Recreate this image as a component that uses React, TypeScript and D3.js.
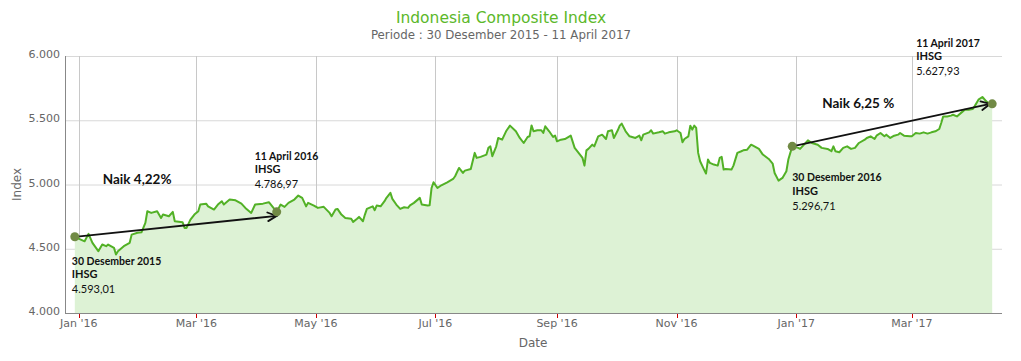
import React from "react";
import * as d3 from "d3";

const dates: string[] = [
  "2015-12-30","2016-01-04","2016-01-06","2016-01-08","2016-01-11","2016-01-13","2016-01-15","2016-01-16","2016-01-19","2016-01-20",
  "2016-01-21","2016-01-24","2016-01-27","2016-01-28","2016-01-31","2016-02-02","2016-02-04","2016-02-05","2016-02-07","2016-02-10",
  "2016-02-12","2016-02-13","2016-02-16","2016-02-18","2016-02-19","2016-02-23","2016-02-24","2016-02-25","2016-02-27","2016-02-29",
  "2016-03-02","2016-03-03","2016-03-06","2016-03-07","2016-03-10","2016-03-12","2016-03-14","2016-03-15","2016-03-18","2016-03-21",
  "2016-03-24","2016-03-26","2016-03-29","2016-03-31","2016-04-04","2016-04-07","2016-04-11","2016-04-13","2016-04-15","2016-04-17",
  "2016-04-20","2016-04-22","2016-04-24","2016-04-26","2016-04-27","2016-04-30","2016-05-02","2016-05-05","2016-05-08","2016-05-09",
  "2016-05-11","2016-05-12","2016-05-14","2016-05-16","2016-05-19","2016-05-20","2016-05-22","2016-05-23","2016-05-25","2016-05-26",
  "2016-05-27","2016-05-30","2016-05-31","2016-06-01","2016-06-03","2016-06-05","2016-06-06","2016-06-08","2016-06-09","2016-06-11",
  "2016-06-13","2016-06-15","2016-06-17","2016-06-18","2016-06-20","2016-06-23","2016-06-24","2016-06-27","2016-06-28","2016-06-29",
  "2016-06-30","2016-07-02","2016-07-04","2016-07-07","2016-07-10","2016-07-11","2016-07-13","2016-07-15","2016-07-16","2016-07-19",
  "2016-07-21","2016-07-22","2016-07-24","2016-07-27","2016-07-28","2016-07-29","2016-07-30","2016-08-01","2016-08-02","2016-08-04",
  "2016-08-06","2016-08-08","2016-08-11","2016-08-13","2016-08-15","2016-08-17","2016-08-18","2016-08-19","2016-08-20","2016-08-22",
  "2016-08-24","2016-08-25","2016-08-26","2016-08-28","2016-08-30","2016-08-31","2016-09-01","2016-09-03","2016-09-05","2016-09-08",
  "2016-09-10","2016-09-12","2016-09-14","2016-09-15","2016-09-16","2016-09-17","2016-09-19","2016-09-20","2016-09-22","2016-09-24",
  "2016-09-26","2016-09-27","2016-09-29","2016-09-30","2016-10-02","2016-10-03","2016-10-04","2016-10-06","2016-10-08","2016-10-11",
  "2016-10-13","2016-10-14","2016-10-15","2016-10-18","2016-10-19","2016-10-20","2016-10-23","2016-10-25","2016-10-26","2016-10-28",
  "2016-10-31","2016-11-01","2016-11-03","2016-11-04","2016-11-05","2016-11-07","2016-11-08","2016-11-09","2016-11-10","2016-11-11",
  "2016-11-12","2016-11-13","2016-11-15","2016-11-16","2016-11-17","2016-11-18","2016-11-20","2016-11-22","2016-11-23","2016-11-24",
  "2016-11-25","2016-11-26","2016-11-29","2016-11-30","2016-12-02","2016-12-04","2016-12-05","2016-12-07","2016-12-09","2016-12-10",
  "2016-12-13","2016-12-15","2016-12-18","2016-12-20","2016-12-21","2016-12-23","2016-12-25","2016-12-27","2016-12-28","2016-12-30",
  "2017-01-02","2017-01-03","2017-01-05","2017-01-07","2017-01-09","2017-01-12","2017-01-14","2017-01-17","2017-01-19","2017-01-20",
  "2017-01-21","2017-01-23","2017-01-25","2017-01-27","2017-01-29","2017-01-31","2017-02-02","2017-02-05","2017-02-06","2017-02-08",
  "2017-02-10","2017-02-11","2017-02-13","2017-02-15","2017-02-16","2017-02-18","2017-02-20","2017-02-22","2017-02-23","2017-02-25",
  "2017-02-28","2017-03-01","2017-03-03","2017-03-05","2017-03-07","2017-03-09","2017-03-11","2017-03-13","2017-03-15","2017-03-16",
  "2017-03-17","2017-03-19","2017-03-21","2017-03-22","2017-03-24","2017-03-27","2017-03-28","2017-03-30","2017-04-01","2017-04-02",
  "2017-04-04","2017-04-06","2017-04-08","2017-04-09","2017-04-11"
];

const values: number[] = [
  4593.01,4558,4616,4546,4481,4533,4520,4533,4507,4455,
  4481,4520,4546,4610,4624,4628,4701,4792,4779,4792,
  4740,4766,4753,4787,4714,4706,4662,4662,4727,4766,
  4792,4844,4851,4830,4805,4844,4870,4844,4883,4877,
  4851,4818,4779,4844,4851,4862,4786.97,4844,4826,4857,
  4883,4914,4896,4830,4857,4836,4818,4826,4779,4753,
  4805,4810,4766,4740,4733,4709,4733,4748,4714,4766,
  4810,4830,4800,4836,4830,4870,4896,4935,4888,4844,
  4810,4823,4818,4838,4857,4896,4844,4836,4838,4973,
  5017,4973,4994,5017,5043,5064,5129,5090,5108,5121,
  5246,5207,5215,5233,5285,5297,5220,5297,5362,5349,
  5414,5458,5414,5362,5323,5370,5375,5460,5414,5422,
  5422,5401,5453,5414,5370,5380,5336,5349,5354,5380,
  5285,5246,5207,5147,5266,5277,5310,5297,5375,5388,
  5354,5414,5422,5362,5422,5458,5474,5414,5375,5362,
  5380,5344,5388,5406,5422,5396,5406,5414,5396,5406,
  5414,5422,5401,5328,5354,5375,5458,5427,5458,5440,
  5246,5181,5116,5085,5194,5168,5155,5147,5207,5215,
  5116,5121,5116,5147,5246,5259,5266,5271,5310,5302,
  5277,5233,5199,5163,5090,5030,5051,5103,5194,5296.71,
  5285,5277,5310,5344,5323,5310,5285,5277,5259,5297,
  5259,5251,5285,5297,5277,5285,5323,5349,5362,5375,
  5354,5380,5401,5375,5388,5362,5380,5388,5401,5380,
  5375,5375,5401,5396,5406,5396,5406,5414,5432,5479,
  5530,5530,5536,5543,5530,5569,5582,5582,5587,5608,
  5660,5681,5647,5634,5627.93
];

const yTicks: number[] = [4000, 4500, 5000, 5500, 6000];
const xDomain: string[] = ["2015-12-25", "2017-04-16"];

// annotation points: date, value, label lines
const markerDates: string[] = ["2015-12-30", "2016-04-11", "2016-12-30", "2017-04-11"];
const markerValues: number[] = [4593.01, 4786.97, 5296.71, 5627.93];
const markerTitles: string[] = ["30 Desember 2015", "11 April 2016", "30 Desember 2016", "11 April 2017"];
const markerLabels: string[] = ["4.593,01", "4.786,97", "5.296,71", "5.627,93"];
const gainLabels: string[] = ["Naik 4,22%", "Naik 6,25 %"];

const title = "Indonesia Composite Index";
const subtitle = "Periode : 30 Desember 2015 - 11 April 2017";

const W = 1021;
const H = 361;
const left = 65;
const right = 1002;
const top = 56;
const bottom = 313;

const parse = d3.utcParse("%Y-%m-%d");
const locale = d3.formatLocale({ decimal: ",", thousands: ".", grouping: [3], currency: ["", ""] });
const fmtY = locale.format(",");
const fmtX = d3.utcFormat("%b '%y");

export default function App() {
  const x = d3.scaleUtc().domain(xDomain.map((s) => parse(s)!)).range([left, right]);
  const y = d3.scaleLinear().domain([4000, 6000]).range([bottom, top]);
  const data = dates.map((d, i) => ({ d: parse(d)!, v: values[i] }));
  const line = d3.line<{ d: Date; v: number }>().x((p) => x(p.d)).y((p) => y(p.v));
  const area = d3
    .area<{ d: Date; v: number }>()
    .x((p) => x(p.d))
    .y0(y(4000))
    .y1((p) => y(p.v));
  const xTicks = x.ticks(d3.utcMonth.every(2)!);
  const mk = markerDates.map((d, i) => ({ x: x(parse(d)!), y: y(markerValues[i]) }));

  const font = "'DejaVu Sans', Verdana, sans-serif";
  const afont = "Lato, 'Open Sans', sans-serif";

  const arrow = (x1: number, y1: number, x2: number, y2: number, key: string) => {
    const ang = Math.atan2(y2 - y1, x2 - x1);
    const L = 10;
    const a = 0.45;
    const p1 = [x2 - L * Math.cos(ang - a), y2 - L * Math.sin(ang - a)];
    const p2 = [x2 - L * Math.cos(ang + a), y2 - L * Math.sin(ang + a)];
    return (
      <g key={key} stroke="#111" strokeWidth={1.8} fill="none" strokeLinecap="round">
        <line x1={x1} y1={y1} x2={x2} y2={y2} />
        <polyline points={`${p1[0]},${p1[1]} ${x2},${y2} ${p2[0]},${p2[1]}`} />
      </g>
    );
  };

  const labelPos = [
    { dx: -3, dy: 28 },
    { dx: -22, dy: -52 },
    { dx: 0, dy: 35 },
    { dx: -76, dy: -57 },
  ];

  return (
    <svg width={W} height={H} style={{ position: "absolute", left: 0, top: 0, background: "#fff" }}>
      <text x={501} y={23} textAnchor="middle" fill="#5cb82a" fontFamily={font} fontSize={15.5}>
        {title}
      </text>
      <text x={501} y={39} textAnchor="middle" fill="#666" fontFamily={font} fontSize={11.8}>
        {subtitle}
      </text>

      {/* horizontal grid */}
      {yTicks.map((t) => (
        <line key={"g" + t} x1={left} x2={right} y1={y(t) + 0.5} y2={y(t) + 0.5} stroke="#d8d8d8" strokeWidth={1} />
      ))}
      {/* vertical grid */}
      {xTicks.map((t) => (
        <line key={"v" + t.getTime()} x1={Math.round(x(t)) + 0.5} x2={Math.round(x(t)) + 0.5} y1={top} y2={bottom} stroke="#c8c8c8" strokeWidth={1} />
      ))}

      <path d={area(data)!} fill="#ddf2d5" />
      <path d={line(data)!} fill="none" stroke="#52b126" strokeWidth={2} strokeLinejoin="round" />

      {/* axes */}
      <line x1={left + 0.5} x2={left + 0.5} y1={top} y2={bottom} stroke="#888" strokeWidth={1} />
      <line x1={left} x2={right} y1={bottom + 0.5} y2={bottom + 0.5} stroke="#888" strokeWidth={1} />
      {xTicks.map((t) => (
        <g key={"t" + t.getTime()}>
          <line x1={Math.round(x(t)) + 0.5} x2={Math.round(x(t)) + 0.5} y1={bottom + 1} y2={bottom + 5} stroke="#cc0000" strokeWidth={1} />
          <text x={x(t)} y={327} textAnchor="middle" fill="#666" fontFamily={font} fontSize={11}>
            {fmtX(t)}
          </text>
        </g>
      ))}
      {yTicks.map((t) => (
        <text key={"yl" + t} x={60} y={y(t) + 2} textAnchor="end" fill="#666" fontFamily={font} fontSize={11}>
          {fmtY(t)}
        </text>
      ))}
      <text transform={`translate(21,${(top + bottom) / 2}) rotate(-90)`} textAnchor="middle" fill="#666" fontFamily={font} fontSize={12}>
        Index
      </text>
      <text x={533} y={347} textAnchor="middle" fill="#666" fontFamily={font} fontSize={12}>
        Date
      </text>

      {/* arrows */}
      {arrow(mk[0].x, mk[0].y, mk[1].x, mk[1].y + 4, "a1")}
      {arrow(mk[2].x, mk[2].y, mk[3].x - 2, mk[3].y, "a2")}

      {/* markers */}
      {mk.map((p, i) => (
        <circle key={"m" + i} cx={p.x} cy={p.y} r={4.5} fill="#718a45" />
      ))}

      {/* labels */}
      {mk.map((p, i) => {
        const lx = p.x + labelPos[i].dx;
        const ly = p.y + labelPos[i].dy;
        return (
          <g key={"l" + i} fontFamily={afont} fill="#111">
            <text x={lx} y={ly} fontSize={10.5} fontWeight="bold">{markerTitles[i]}</text>
            <text x={lx} y={ly + 13.5} fontSize={11} fontWeight="bold">IHSG</text>
            <text x={lx} y={ly + 28.5} fontSize={11}>{markerLabels[i]}</text>
          </g>
        );
      })}
      <text x={mk[0].x + 28} y={184} fontFamily={afont} fontWeight="bold" fontSize={13.5} fill="#111">
        {gainLabels[0]}
      </text>
      <text x={(mk[2].x + mk[3].x) / 2 - 70} y={108} fontFamily={afont} fontWeight="bold" fontSize={13.5} fill="#111">
        {gainLabels[1]}
      </text>
    </svg>
  );
}
